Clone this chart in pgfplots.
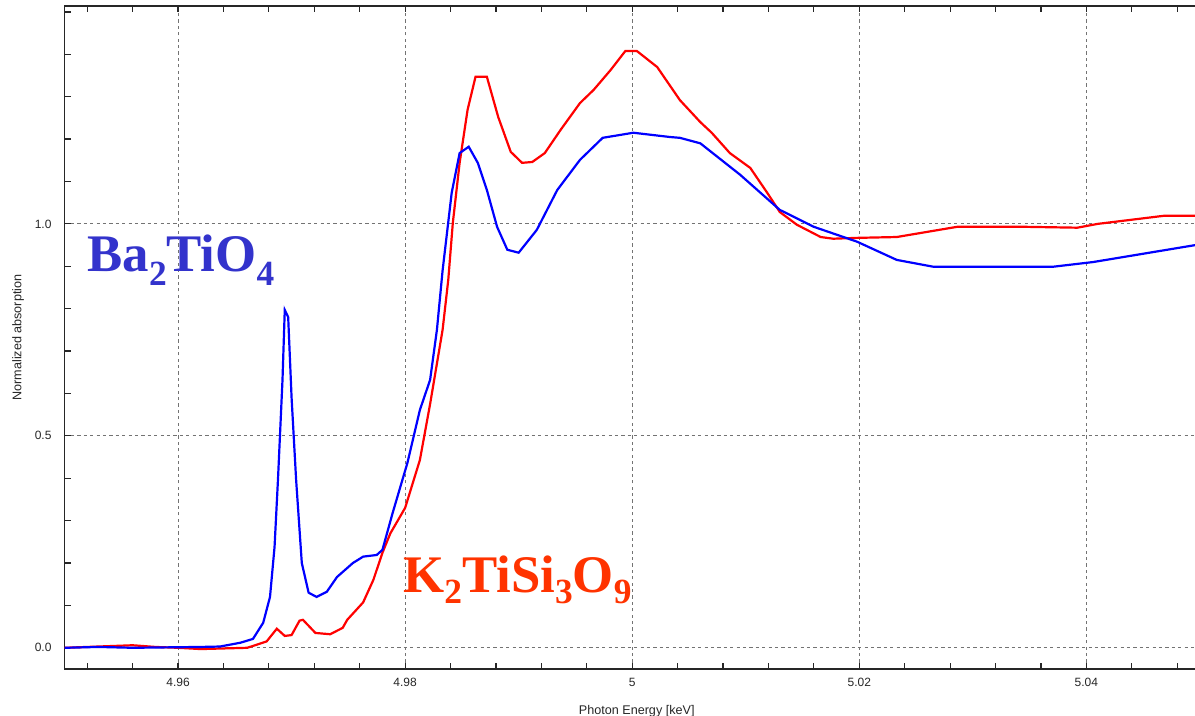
\documentclass[border=0pt]{standalone}
\usepackage{fontspec}
\setmainfont{Liberation Sans}
\newfontfamily\tnr{Liberation Serif}
\usepackage{pgfplots}
\pgfplotsset{compat=1.18}
\definecolor{bluelab}{RGB}{51,51,204}
\definecolor{redlab}{RGB}{255,51,0}
\newcommand\sub[2]{\raisebox{-#1}{\fontsize{17.7}{17.7}\selectfont #2}}
\begin{document}
\begin{tikzpicture}
\useasboundingbox (0,0) rectangle (597.5pt,358pt);
\begin{axis}[
  at={(32.25pt,23.5pt)}, anchor=south west,
  scale only axis, width=572.25pt, height=331.5pt,
  xmin=4.95, xmax=5.0508, ymin=-0.05, ymax=1.514,
  axis line style={black!85, line width=0.8pt},
  xtick={4.96,4.98,5,5.02,5.04},
  xticklabels={4.96,4.98,5,5.02,5.04},
  minor xtick={4.952,4.956,4.964,4.968,4.972,4.976,4.984,4.988,4.992,4.996,5.004,5.008,5.012,5.016,5.024,5.028,5.032,5.036,5.044,5.048},
  ytick={0,0.5,1.0},
  yticklabels={0.0,0.5,1.0},
  minor ytick={0.1,0.2,0.3,0.4,0.6,0.7,0.8,0.9,1.1,1.2,1.3,1.4,1.5},
  tick pos=both, tick align=inside,
  major tick length=3pt, minor tick length=3pt,
  tick style={black!85, line width=0.6pt},
  xmajorgrids, ymajorgrids,
  major grid style={black!55, dash pattern=on 1.6pt off 1.6pt, line width=0.5pt},
  ticklabel style={font=\fontsize{6}{6}\selectfont, text=black!85},
  xticklabel style={yshift=-1pt},
  yticklabel style={xshift=-3pt},
  xlabel={Photon Energy [keV]},
  xlabel style={at={(rel axis cs:0.5,0)}, anchor=center, yshift=-21pt, font=\fontsize{6.3}{6.3}\selectfont, text=black!85},
  clip=true,
]
\addplot[red, line width=1.1pt] coordinates {
(4.9500,0.000) (4.9530,0.003) (4.9560,0.006) (4.9580,0.002) (4.9600,0.000)
(4.9620,-0.003) (4.9661,0.000) (4.9678,0.015) (4.9687,0.045) (4.9694,0.028)
(4.9700,0.030) (4.9707,0.064) (4.9710,0.066) (4.9721,0.035) (4.9734,0.032)
(4.9745,0.047) (4.9749,0.066) (4.9763,0.107) (4.9772,0.160) (4.9780,0.224)
(4.9787,0.270) (4.9800,0.330) (4.9813,0.443) (4.9822,0.575) (4.9833,0.750)
(4.9838,0.868) (4.9842,1.002) (4.9848,1.144) (4.9855,1.269) (4.9862,1.347)
(4.9872,1.347) (4.9882,1.252) (4.9893,1.170) (4.9903,1.144) (4.9912,1.146)
(4.9923,1.167) (4.9937,1.222) (4.9954,1.285) (4.9966,1.316) (4.9981,1.363)
(4.9994,1.408) (5.0004,1.408) (5.0022,1.370) (5.0042,1.292) (5.0060,1.240)
(5.0070,1.215) (5.0086,1.167) (5.0104,1.132) (5.0119,1.073) (5.0130,1.028)
(5.0145,0.998) (5.0166,0.969) (5.0177,0.965) (5.0198,0.967) (5.0233,0.969)
(5.0286,0.993) (5.0348,0.993) (5.0392,0.991) (5.0410,1.000) (5.0468,1.019)
(5.0508,1.019)
};
\addplot[blue, line width=1.1pt] coordinates {
(4.9500,0.000) (4.9530,0.002) (4.9560,0.000) (4.9590,0.001) (4.9620,0.002)
(4.9637,0.003) (4.9655,0.012) (4.9666,0.021) (4.9675,0.059) (4.9681,0.120)
(4.9685,0.238) (4.9688,0.396) (4.9692,0.632) (4.9694,0.797) (4.9697,0.780)
(4.9700,0.590) (4.9704,0.396) (4.9709,0.200) (4.9715,0.130) (4.9722,0.120)
(4.9731,0.132) (4.9740,0.167) (4.9754,0.200) (4.9763,0.215) (4.9775,0.219)
(4.9780,0.231) (4.9789,0.318) (4.9802,0.436) (4.9813,0.561) (4.9822,0.632)
(4.9828,0.750) (4.9833,0.890) (4.9841,1.073) (4.9848,1.167) (4.9856,1.182)
(4.9864,1.144) (4.9872,1.080) (4.9881,0.993) (4.9890,0.939) (4.9900,0.932)
(4.9916,0.986) (4.9934,1.080) (4.9954,1.151) (4.9974,1.203) (5.0001,1.215)
(5.0033,1.205) (5.0042,1.203) (5.0060,1.190) (5.0095,1.116) (5.0130,1.033)
(5.0160,0.993) (5.0198,0.958) (5.0233,0.915) (5.0265,0.899) (5.0371,0.899)
(5.0406,0.910) (5.0496,0.950) (5.0508,0.952)
};
\end{axis}
\node[rotate=90, anchor=center, inner sep=0pt, text=black!85, font=\fontsize{6.3}{6.3}\selectfont] at (9pt,189.25pt) {Normalized absorption};
\node[anchor=base west, inner sep=0pt, text=bluelab] at (43.5pt,222pt)
  {\tnr\bfseries\fontsize{26.4}{26.4}\selectfont Ba\sub{6.75pt}{2}TiO\sub{6.75pt}{4}};
\node[anchor=base west, inner sep=0pt, text=redlab] at (201.5pt,61.5pt)
  {\tnr\bfseries\fontsize{26.4}{26.4}\selectfont K\sub{5.5pt}{2}TiSi\sub{5.5pt}{3}O\sub{5.5pt}{9}};
\end{tikzpicture}
\end{document}
